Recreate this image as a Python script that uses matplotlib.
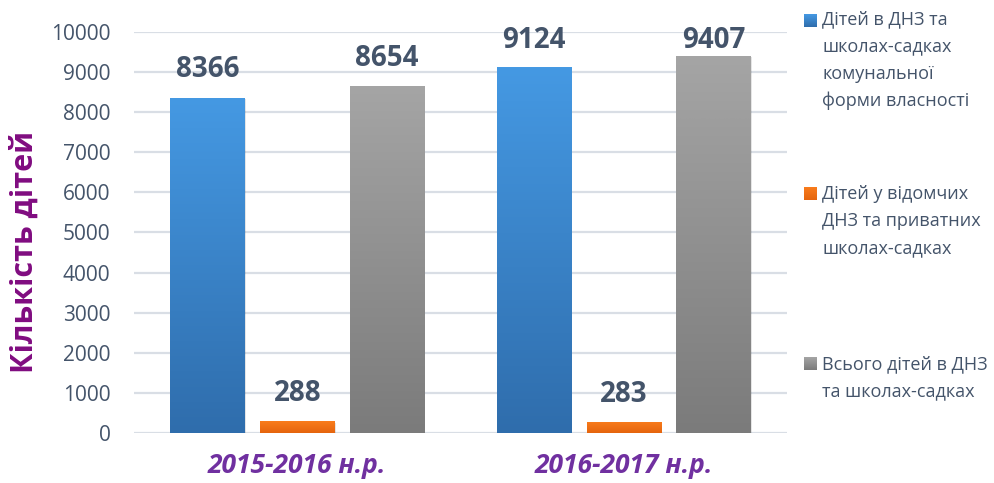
import numpy as np
import matplotlib
matplotlib.use("Agg")
import matplotlib.pyplot as plt
from matplotlib.patches import Rectangle
import matplotlib.colors as mcolors

categories = ["2015-2016 н.р.", "2016-2017 н.р."]
series_names = [
    "Дітей в ДНЗ та\nшколах-садках\nкомунальної\nформи власності",
    "Дітей у відомчих\nДНЗ та приватних\nшколах-садках",
    "Всього дітей в ДНЗ\nта школах-садках",
]
communal = [8366, 9124]
private = [288, 283]
total = [8654, 9407]
series_values = [communal, private, total]
yticks = [0, 1000, 2000, 3000, 4000, 5000, 6000, 7000, 8000, 9000, 10000]

grad_top = ["#4599E3", "#F97C1C", "#A5A5A5"]
grad_bot = ["#2F6DAC", "#E5650E", "#7B7B7B"]

plt.rcParams['font.family'] = ['Open Sans', 'DejaVu Sans']
text_col = "#44546A"
purple = "#7030A0"
ylabel_col = "#800C80"

fig = plt.figure(figsize=(9.94, 4.83), dpi=100)
L, R, B, T = 134/994, 787/994, (483-433)/483, (483-32)/483
ax = fig.add_axes([L, B, R-L, T-B])
ax.set_xlim(-0.5, 1.5)
ax.set_ylim(0, 10000)

x = np.arange(len(categories))
width = 0.227
step = 0.275
for i, vals in enumerate(series_values):
    pos = x + (i - 1) * step
    bars = ax.bar(pos, vals, width=width, color=grad_top[i], zorder=3, linewidth=0)
    cmap = mcolors.LinearSegmentedColormap.from_list("g%d" % i, [grad_bot[i], grad_top[i]])
    for b in bars:
        x0, y0 = b.get_x(), b.get_y()
        w, h = b.get_width(), b.get_height()
        # soft shadow
        ax.add_patch(Rectangle((x0 + 0.004, y0 - 40), w, h, facecolor="#000000",
                               alpha=0.10, zorder=2, linewidth=0))
        grad = np.linspace(0, 1, 256).reshape(-1, 1)
        im = ax.imshow(grad, extent=(x0, x0 + w, y0, y0 + h), origin="lower",
                       cmap=cmap, aspect="auto", zorder=3.5)
        im.set_clip_path(b)
        ly = min(y0 + h + 500, 9600)
        ax.text(x0 + w/2, ly, f"{int(h)}", ha="center", va="baseline",
                fontsize=20, fontweight="bold", color=text_col, zorder=5, clip_on=False)
ax.set_xlim(-0.5, 1.5)
ax.set_ylim(0, 10000)

ax.set_yticks(yticks)
ax.set_yticklabels([str(v) for v in yticks], fontsize=15, color=text_col)
ax.tick_params(axis="y", length=0, pad=17)
ax.set_xticks(x)
ax.set_xticklabels(categories, fontsize=19, fontweight="bold", fontstyle="italic", color=purple)
ax.tick_params(axis="x", length=0, pad=14)
for s in ax.spines.values():
    s.set_visible(False)
ax.yaxis.grid(True, color="#D9DEE5", linewidth=1.6, zorder=0)
ax.set_axisbelow(True)

fig.text(25/994, 1 - 252/483, "Кількість дітей", rotation=90, ha="center", va="center",
         fontsize=22, fontweight="bold", color=ylabel_col)

# legend
baselines = [27, 200, 370]
line_step = 26.5
for i, name in enumerate(series_names):
    n_lines = name.count("\n") + 1
    last_base = baselines[i] + (n_lines - 1) * line_step
    fig.text(822/994, 1 - last_base/483, name, ha="left", va="baseline",
             fontsize=13, color=text_col, linespacing=1.65)
    cmap = mcolors.LinearSegmentedColormap.from_list("lg%d" % i, [grad_bot[i], grad_top[i]])
    sq = fig.add_axes([804/994, 1 - baselines[i]/483, 13/994, 13/483])
    sq.imshow(np.linspace(0, 1, 64).reshape(-1, 1), origin="lower", cmap=cmap, aspect="auto")
    sq.axis("off")

fig.savefig("out.png", dpi=100)
